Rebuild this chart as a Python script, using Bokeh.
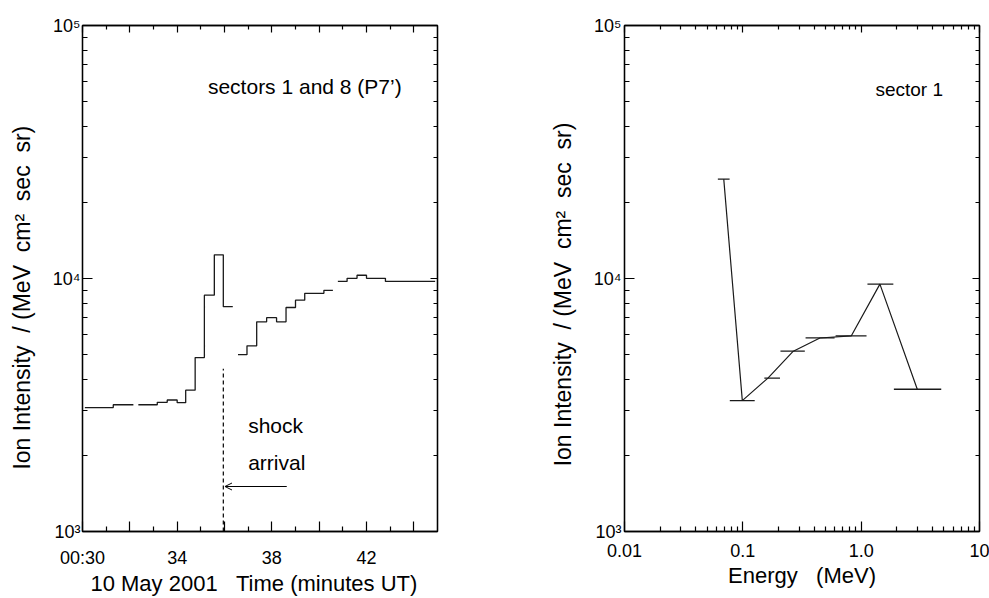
import numpy as np
from bokeh.plotting import figure
from bokeh.layouts import row
from bokeh.models import (FixedTicker, LinearAxis, LogAxis, CustomJSTickFormatter,
                          Label, Arrow, OpenHead, Range1d)
from bokeh.embed import file_html
from bokeh.resources import INLINE

FONT = "Liberation Sans"
NB = "\u00a0"

# ---------------- left panel data: time profile (minutes after 00:00 UT) -------------
seg_start = [30.1, 31.3, 32.36, 33.16, 33.58, 34.0, 34.36, 34.76, 35.15, 35.57, 35.95,
             36.57, 36.95, 37.36, 37.78, 38.2, 38.6, 39.0, 39.39, 40.2,
             40.79, 41.18, 41.6, 42.0, 42.8]
seg_end = [31.3, 32.15, 33.16, 33.58, 34.0, 34.36, 34.76, 35.15, 35.57, 35.95, 36.35,
           36.95, 37.36, 37.78, 38.2, 38.6, 39.0, 39.39, 40.2, 40.58,
           41.18, 41.6, 42.0, 42.8, 44.9]
seg_flux = [3090, 3170, 3170, 3240, 3310, 3230, 3620, 4870, 8590, 12400, 7740,
            5000, 5420, 6740, 7000, 6740, 7680, 8210, 8740, 8980,
            9740, 10020, 10300, 10020, 9740]

shock_time = 35.95
shock_line_top = 4400
arrow_from = 38.63
arrow_level = 1506

time_major = [30, 32, 34, 36, 38, 40, 42, 44]
time_labels = ["00:30", "", "34", "", "38", "", "42", ""]
time_minor = [31, 33, 35, 37, 39, 41, 43]

flux_major = [1e3, 1e4, 1e5]
flux_labels = ["10\u00b3", "10\u2074", "10\u2075"]
flux_minor = [m * d for d in (1e3, 1e4) for m in range(2, 10)]

# ---------------- right panel data: energy spectrum ----------------
energy = [0.069, 0.099, 0.163, 0.267, 0.448, 0.824, 1.44, 2.98]
e_low = [0.0615, 0.0776, 0.152, 0.208, 0.339, 0.608, 1.13, 1.89]
e_high = [0.0773, 0.126, 0.206, 0.334, 0.596, 1.11, 1.87, 4.75]
spec_flux = [24700, 3290, 4040, 5160, 5820, 5930, 9500, 3650]

energy_major = [0.01, 0.1, 1.0, 10.0]
energy_labels = ["0.01", "0.1", "1.0", "10"]
energy_minor = [m * d for d in (0.01, 0.1, 1.0) for m in range(2, 10)]

YTITLE = ("Ion Intensity" + NB * 2 + "/ (MeV" + NB * 2 + "cm\u00b2" + NB * 2 +
          "sec" + NB * 2 + "sr)")

BLANK = CustomJSTickFormatter(code="return ''")


def style_axis(ax, major_in=10, minor_in=5):
    ax.axis_line_color = "black"
    ax.axis_line_width = 1.3
    ax.major_tick_in = major_in
    ax.major_tick_out = 0
    ax.minor_tick_in = minor_in
    ax.minor_tick_out = 0
    ax.major_tick_line_color = "black"
    ax.minor_tick_line_color = "black"
    ax.major_tick_line_width = 1.2
    ax.minor_tick_line_width = 1.2
    ax.major_label_text_font = FONT
    ax.major_label_text_font_size = "18px"
    ax.major_label_text_color = "black"
    ax.axis_label_text_font = FONT
    ax.axis_label_text_font_size = "22px"
    ax.axis_label_text_font_style = "normal"
    ax.axis_label_text_color = "black"


def mirror_axes(p, xaxis_cls, xt, yt):
    top = xaxis_cls(ticker=xt, formatter=BLANK)
    style_axis(top, 7, 4)
    top.major_label_standoff = 0
    p.add_layout(top, "above")
    right = LogAxis(ticker=yt, formatter=BLANK)
    style_axis(right, 7, 4)
    right.major_label_standoff = 0
    p.add_layout(right, "right")


# =============================== LEFT FIGURE ===============================
p1 = figure(width=480, height=598, y_axis_type="log",
            x_range=Range1d(30, 45), y_range=Range1d(1e3, 1e5),
            output_backend="svg", toolbar_location=None,
            min_border_left=82, min_border_right=43, min_border_top=24, min_border_bottom=67)
p1.grid.visible = False
p1.outline_line_color = "black"
p1.outline_line_width = 1.3
p1.background_fill_color = "white"
p1.border_fill_color = "white"

xs, ys = [], []
for i, (a, b, f) in enumerate(zip(seg_start, seg_end, seg_flux)):
    if i > 0 and abs(a - seg_end[i - 1]) > 1e-6:
        xs.append(np.nan)
        ys.append(np.nan)
    xs += [a, b]
    ys += [f, f]
p1.line(xs, ys, line_color="#1a1a1a", line_width=1.3)

p1.segment(x0=[shock_time], y0=[1e3], x1=[shock_time], y1=[shock_line_top],
           line_color="black", line_width=1.2, line_dash="4 3")
p1.add_layout(Arrow(end=OpenHead(size=7, line_width=1, line_color="black"),
                    x_start=arrow_from, y_start=arrow_level,
                    x_end=shock_time + 0.07, y_end=arrow_level,
                    line_color="black", line_width=1.2))

xa = p1.xaxis[0]
xa.ticker = FixedTicker(ticks=time_major, minor_ticks=time_minor)
xa.major_label_overrides = {t: l for t, l in zip(time_major, time_labels)}
xa.axis_label = "10 May 2001" + NB * 3 + "Time (minutes UT)" + NB * 2
style_axis(xa)
xa.major_label_standoff = 16
xa.axis_label_standoff = 0

ya = p1.yaxis[0]
ya.ticker = FixedTicker(ticks=flux_major, minor_ticks=flux_minor)
ya.major_label_overrides = {v: l for v, l in zip(flux_major, flux_labels)}
ya.axis_label = YTITLE + NB * 6
style_axis(ya)
ya.axis_label_text_font_size = "23px"
ya.major_label_standoff = 2
ya.axis_label_standoff = 15

mirror_axes(p1, LinearAxis,
            FixedTicker(ticks=time_major, minor_ticks=time_minor),
            FixedTicker(ticks=flux_major, minor_ticks=flux_minor))

txt = dict(text_font=FONT, text_color="black", text_baseline="alphabetic", text_align="left")
p1.add_layout(Label(x=35.3, y=57500, text="sectors 1 and 8 (P7’)", text_font_size="21px", **txt))
p1.add_layout(Label(x=37.0, y=2636, text="shock", text_font_size="21px", **txt))
p1.add_layout(Label(x=37.0, y=1870, text="arrival", text_font_size="21px", **txt))

# =============================== RIGHT FIGURE ===============================
p2 = figure(width=509, height=598, x_axis_type="log", y_axis_type="log",
            x_range=Range1d(0.01, 10), y_range=Range1d(1e3, 1e5),
            output_backend="svg", toolbar_location=None,
            min_border_left=144, min_border_right=10, min_border_top=25, min_border_bottom=65)
p2.grid.visible = False
p2.outline_line_color = "black"
p2.outline_line_width = 1.3
p2.background_fill_color = "white"
p2.border_fill_color = "white"

p2.segment(x0=e_low, y0=spec_flux, x1=e_high, y1=spec_flux, line_color="#1a1a1a", line_width=1.3)
p2.line(energy, spec_flux, line_color="#1a1a1a", line_width=1.2)

xb = p2.xaxis[0]
xb.ticker = FixedTicker(ticks=energy_major, minor_ticks=energy_minor)
xb.major_label_overrides = {t: l for t, l in zip(energy_major, energy_labels)}
xb.axis_label = "Energy" + NB * 3 + "(MeV)"
style_axis(xb)
xb.major_label_standoff = 12
xb.axis_label_standoff = 3

yb = p2.yaxis[0]
yb.ticker = FixedTicker(ticks=flux_major, minor_ticks=flux_minor)
yb.major_label_overrides = {v: l for v, l in zip(flux_major, flux_labels)}
yb.axis_label = YTITLE + NB * 5
style_axis(yb)
yb.axis_label_text_font_size = "23px"
yb.major_label_standoff = 3
yb.axis_label_standoff = 15

mirror_axes(p2, LogAxis,
            FixedTicker(ticks=energy_major, minor_ticks=energy_minor),
            FixedTicker(ticks=flux_major, minor_ticks=flux_minor))

p2.add_layout(Label(x=1.32, y=55900, text="sector 1", text_font_size="19px", **txt))

layout = row(p1, p2)
open("out.html", "w").write(file_html(layout, INLINE))
